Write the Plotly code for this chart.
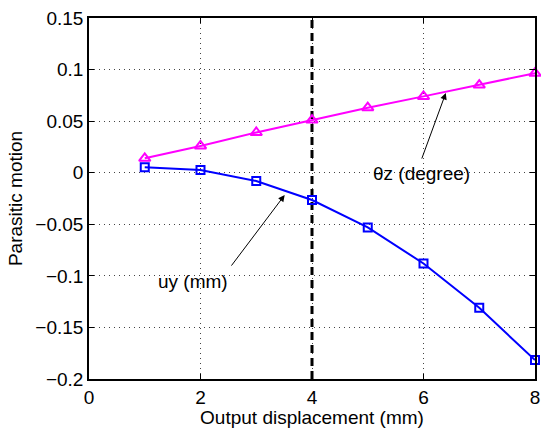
import plotly.graph_objects as go

x_vals = [1, 2, 3, 4, 5, 6, 7, 8]
theta_z = [0.014, 0.026, 0.039, 0.051, 0.063, 0.074, 0.085, 0.0965]
u_y = [0.0052, 0.0026, -0.008, -0.0265, -0.053, -0.088, -0.131, -0.1817]

y_ticks = [0.15, 0.1, 0.05, 0, -0.05, -0.1, -0.15, -0.2]
y_tick_labels = ["0.15", "0.1", "0.05", "0", "\u22120.05", "\u22120.1", "\u22120.15", "\u22120.2"]
x_ticks = [0, 2, 4, 6, 8]
x_tick_labels = ["0", "2", "4", "6", "8"]

dash_x = [4, 4]
dash_y = [-0.2, 0.15]

fig = go.Figure()
fig.add_trace(go.Scatter(x=dash_x, y=dash_y, mode="lines",
                         line=dict(color="black", width=3, dash="8px,5px"), showlegend=False))
fig.add_trace(go.Scatter(x=x_vals, y=theta_z, mode="lines+markers",
                         line=dict(color="#FF00FF", width=2),
                         marker=dict(symbol="triangle-up-open", size=10, color="#FF00FF",
                                     line=dict(width=2, color="#FF00FF")),
                         showlegend=False, cliponaxis=False))
fig.add_trace(go.Scatter(x=x_vals, y=u_y, mode="lines+markers",
                         line=dict(color="#0000FF", width=2),
                         marker=dict(symbol="square-open", size=8, color="#0000FF",
                                     line=dict(width=2, color="#0000FF")),
                         showlegend=False, cliponaxis=False))

font = dict(family="Liberation Sans, Arial, sans-serif", size=19, color="black")

fig.add_annotation(x=6.4, y=0.0773, ax=5.96, ay=0.0123, axref="x", ayref="y",
                   text="", showarrow=True, arrowhead=2, arrowsize=1.3, arrowwidth=1,
                   arrowcolor="black")
fig.add_annotation(x=5.96, y=-0.0003, text="\u03b8z (degree)", showarrow=False,
                   font=font, xanchor="center", yanchor="middle")
fig.add_annotation(x=3.51, y=-0.0216, text="", showarrow=True, arrowhead=2, arrowsize=1.3,
                   arrowwidth=1, arrowcolor="black", ax=2.535, ay=-0.0915,
                   axref="x", ayref="y")
fig.add_annotation(x=1.87, y=-0.105, text="uy (mm)", showarrow=False,
                   font=font, xanchor="center", yanchor="middle")

axis_common = dict(showline=True, linecolor="black", linewidth=1.5, mirror="ticks",
                   ticks="inside", ticklen=5, tickcolor="black",
                   showgrid=True, gridcolor="#444444", griddash="1px,4px", gridwidth=1,
                   zeroline=False, tickfont=font, ticklabeloverflow="allow")

fig.update_xaxes(range=[0, 8], tickvals=x_ticks, ticktext=x_tick_labels,
                 title=dict(text="Output displacement (mm)", font=font, standoff=0),
                 **axis_common)
fig.update_yaxes(range=[-0.2, 0.15], tickvals=y_ticks, ticktext=y_tick_labels,
                 title=dict(text="Parasitic motion", font=font, standoff=8),
                 **axis_common)

fig.update_layout(width=541, height=428, margin=dict(l=89, r=1, t=18, b=49),
                  plot_bgcolor="white", paper_bgcolor="white", font=font)

fig.write_html("out.html")
